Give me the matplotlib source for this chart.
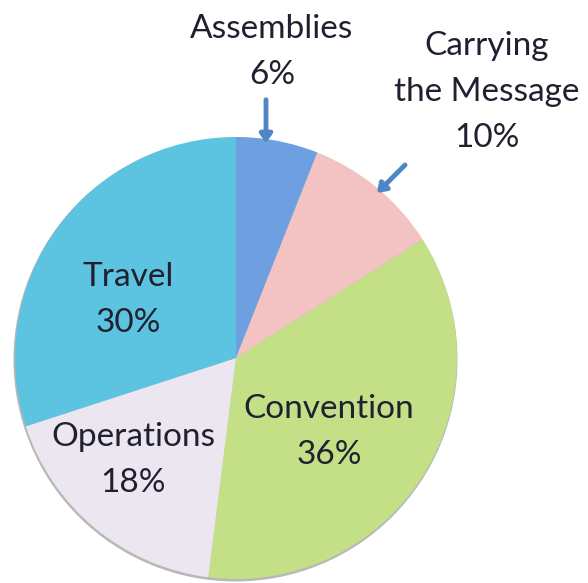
import matplotlib
matplotlib.use("Agg")
import matplotlib.pyplot as plt
from matplotlib.patches import Circle

categories = ["Assemblies", "Carrying\nthe Message", "Convention", "Operations", "Travel"]
values = [6, 10, 36, 18, 30]
colors = ["#6e9fe0", "#f3c3c3", "#c3e086", "#ece6f0", "#5cc3e1"]

W, H = 588, 583
fig = plt.figure(figsize=(W / 100, H / 100), dpi=100)
ax = fig.add_axes([0, 0, 1, 1])
cx, cy, r = 236, H - 358, 221
# soft shadow under the pie
ax.add_patch(Circle((cx - 0.5, cy - 1.5), r + 1.0, facecolor="#b8b8b8", edgecolor="none", zorder=0))
ax.pie(values, colors=colors, startangle=90, counterclock=False,
       center=(cx, cy), radius=r, frame=False,
       wedgeprops=dict(linewidth=0, zorder=1))
ax.set_xlim(0, W)
ax.set_ylim(0, H)
ax.set_aspect("equal")
ax.axis("off")

font = dict(family="Lato", fontsize=24, color="#202030",
            ha="center", va="center", linespacing=1.66)

# label centre positions in pixels (from top)
pos = {
    "Assemblies": (272, 52),
    "Carrying\nthe Message": (487, 92),
    "Convention": (329, 432),
    "Operations": (133, 460),
    "Travel": (128, 300),
}
for cat, v in zip(categories, values):
    x, y = pos[cat]
    ax.text(x, H - y, f"{cat}\n{v}%", zorder=3, **font)

arrow = dict(arrowstyle="-|>,head_width=0.35,head_length=0.5", color="#4f86c6", lw=3.5)
ax.annotate("", xy=(266, H - 146), xytext=(266, H - 97), arrowprops=arrow, zorder=3)
ax.annotate("", xy=(375, H - 195), xytext=(407, H - 163), arrowprops=arrow, zorder=3)

fig.savefig("out.png", dpi=100)
